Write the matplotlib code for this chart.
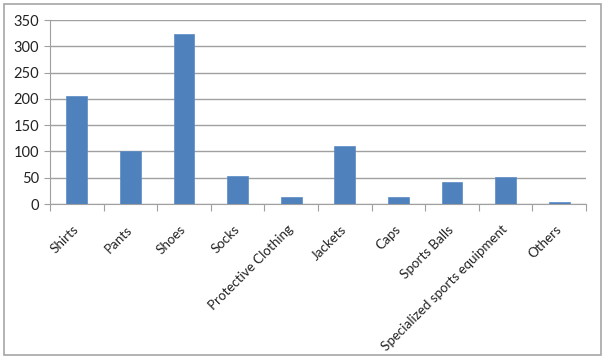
import matplotlib
matplotlib.use('Agg')
import matplotlib.pyplot as plt
from matplotlib.patches import Rectangle
import numpy as np

categories = ["Shirts", "Pants", "Shoes", "Socks", "Protective Clothing",
              "Jackets", "Caps", "Sports Balls", "Specialized sports equipment",
              "Others"]
values = [206, 100, 324, 54, 13, 110, 14, 42, 51, 3]
yticks = [0, 50, 100, 150, 200, 250, 300, 350]

plt.rcParams['font.family'] = ['Lato', 'DejaVu Sans']

W, H = 604, 359
fig = plt.figure(figsize=(W / 100, H / 100), dpi=100)
fig.patches.append(Rectangle((4 / W, 4 / H), 597 / W, 351 / H, transform=fig.transFigure,
                             fill=False, edgecolor='#a6a6a6', linewidth=1.2))

ax = fig.add_axes([50 / W, 1 - 204 / H, 536 / W, 184 / H])
x = np.arange(len(categories))
ax.bar(x, values, width=0.39, color='#4f81bd', edgecolor='#5a8ac6', linewidth=0.5, zorder=3)

ax.set_xlim(-0.5, len(categories) - 0.5)
ax.set_ylim(0, 350)
ax.set_yticks(yticks)
ax.set_yticklabels([str(v) for v in yticks], fontsize=10.5, color='#222222')
ax.yaxis.grid(True, color='#a0a0a0', linewidth=1, zorder=0)
ax.tick_params(axis='y', length=4, color='#a0a0a0', pad=4)

# category boundary ticks
ax.set_xticks(np.arange(len(categories) + 1) - 0.5)
ax.set_xticklabels([])
ax.tick_params(axis='x', which='major', length=5, color='#a0a0a0')
ax.set_xticks(x, minor=True)
ax.set_xticklabels(categories, minor=True, rotation=45, ha='right', va='center',
                   rotation_mode='anchor', fontsize=9.6, color='#222222')
ax.tick_params(axis='x', which='minor', length=0, pad=17)

for s in ['top', 'right']:
    ax.spines[s].set_visible(False)
ax.spines['left'].set_color('#a0a0a0')
ax.spines['bottom'].set_color('#a0a0a0')

fig.savefig("out.png", dpi=100)
